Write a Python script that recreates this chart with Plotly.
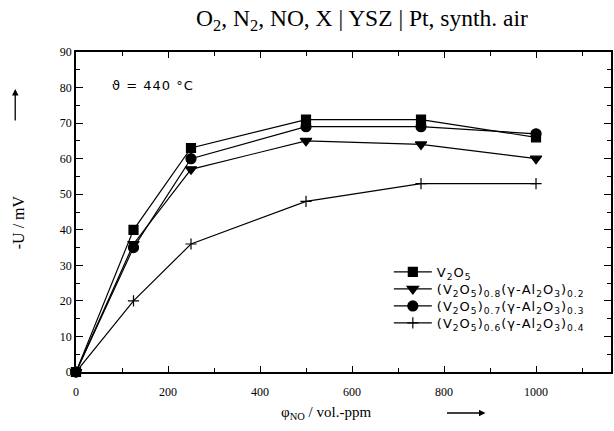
import plotly.graph_objects as go

# NO concentration (vol.-ppm) and sensor voltage -U (mV) for each electrode material
phi_no = [0, 125, 250, 500, 750, 1000]
u_v2o5 = [0, 40, 63, 71, 71, 66]
u_08 = [0, 36, 57, 65, 64, 60]
u_07 = [0, 35, 60, 69, 69, 67]
u_06 = [0, 20, 36, 48, 53, 53]


def spaced(s):
    return '<span style="letter-spacing:1px">' + s + "</span>"


names = [
    "V<sub>2</sub>O<sub>5</sub>",
    "(V<sub>2</sub>O<sub>5</sub>)<sub>0.8</sub>(γ-Al<sub>2</sub>O<sub>3</sub>)<sub>0.2</sub>",
    "(V<sub>2</sub>O<sub>5</sub>)<sub>0.7</sub>(γ-Al<sub>2</sub>O<sub>3</sub>)<sub>0.3</sub>",
    "(V<sub>2</sub>O<sub>5</sub>)<sub>0.6</sub>(γ-Al<sub>2</sub>O<sub>3</sub>)<sub>0.4</sub>",
]
series = [u_v2o5, u_08, u_07, u_06]
symbols = ["square", "triangle-down", "circle", "cross-thin-open"]
sizes = [9, 10, 10, 8]
legend_ids = ["legend", "legend2", "legend3", "legend4"]
legend_rows = [272, 289, 306, 323]

W, H = 614, 431
L, R, T, B = 76, 1, 52, 59

fig = go.Figure()
for name, ys, sym, sz, lid in zip(names, series, symbols, sizes, legend_ids):
    fig.add_trace(go.Scatter(
        x=phi_no, y=ys, name=spaced(name), mode="lines+markers",
        line=dict(color="black", width=1.2),
        marker=dict(symbol=sym, size=sz, color="black",
                    line=dict(color="black", width=1.2)),
        cliponaxis=False, legend=lid,
    ))

serif = "Liberation Serif, Times New Roman, serif"
sans = "DejaVu Sans, Arial, sans-serif"

axis_common = dict(
    showline=True, linecolor="black", linewidth=1.5, mirror="ticks",
    ticks="inside", tickcolor="black", tickwidth=1.2,
    showgrid=False, zeroline=False,
    tickfont=dict(family=serif, size=12, color="black"),
)

fig.update_xaxes(range=[0, 1163], dtick=200, ticklen=6, ticklabelstandoff=8,
                 minor=dict(ticks="inside", dtick=100, ticklen=4, tickcolor="black"),
                 **axis_common)
fig.update_yaxes(range=[0, 90], dtick=10, ticklen=7,
                 minor=dict(ticks="inside", dtick=5, ticklen=4, tickcolor="black"),
                 **axis_common)

pw = W - L - R
ph = H - T - B


def px(xp):
    return (xp - L) / pw


def py(yp):
    return (H - B - yp) / ph


annotations = [
    dict(text="O<sub>2</sub>, N<sub>2</sub>, NO, X | YSZ | Pt, synth. air",
         x=px(363), y=py(20), xref="paper", yref="paper", showarrow=False,
         xanchor="center", yanchor="middle",
         font=dict(family=serif, size=23.5, color="black")),
    dict(text=spaced("ϑ = 440 °C"), x=px(110), y=py(86), xref="paper", yref="paper",
         xanchor="left", yanchor="middle", showarrow=False,
         font=dict(family=sans, size=13, color="black")),
    dict(text="φ<sub>NO</sub> / vol.-ppm", x=px(327), y=py(413), xref="paper", yref="paper",
         xanchor="center", yanchor="middle",
         showarrow=False, font=dict(family=serif, size=15, color="black")),
    dict(text="-U / mV", x=px(18), y=py(222), xref="paper", yref="paper",
         xanchor="center", yanchor="middle",
         textangle=-90, showarrow=False, font=dict(family=serif, size=16, color="black")),
    dict(text="", x=px(487), y=py(413), xref="paper", yref="paper",
         ax=-40, ay=0, showarrow=True, arrowhead=2, arrowsize=1, arrowwidth=1.3,
         arrowcolor="black"),
    dict(text="", x=px(15), y=py(89), xref="paper", yref="paper",
         ax=0, ay=33, showarrow=True, arrowhead=2, arrowsize=1, arrowwidth=1.3,
         arrowcolor="black"),
]

legend_style = dict(xanchor="left", yanchor="middle", bgcolor="rgba(0,0,0,0)",
                    borderwidth=0, font=dict(family=sans, size=13, color="black"),
                    itemwidth=38)

layout_legends = {
    lid: dict(x=px(390), y=py(row), **legend_style)
    for lid, row in zip(legend_ids, legend_rows)
}

fig.update_layout(
    width=W, height=H,
    margin=dict(l=L, r=R, t=T, b=B, pad=0),
    paper_bgcolor="white", plot_bgcolor="white",
    showlegend=True,
    annotations=annotations,
    **layout_legends,
)

fig.write_html("out.html")
